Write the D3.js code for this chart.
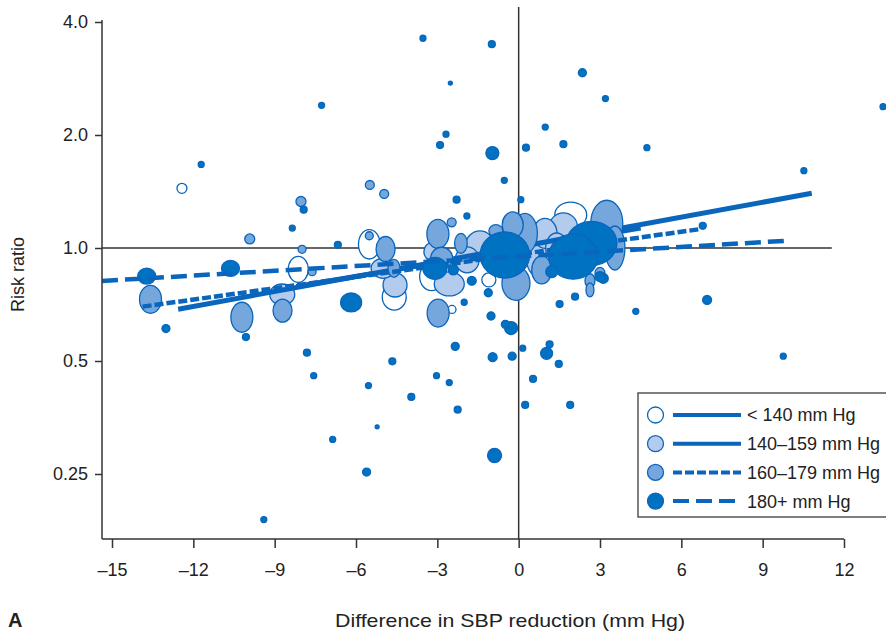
<!DOCTYPE html>
<html>
<head>
<meta charset="utf-8">
<script src="https://cdn.jsdelivr.net/npm/d3@7"></script>
<style>
    body { margin: 0; background: #fff; }
    text { font-family: "Liberation Sans", Arial, sans-serif; fill: #222; }
</style>
</head>
<body>
<svg id="chart" width="886" height="633"></svg>
<script>
// x ticks and y ticks (risk ratio, log scale)
var xTicks = [-15, -12, -9, -6, -3, 0, 3, 6, 9, 12],
    yTicks = [0.25, 0.5, 1, 2, 4],
    yTickLabels = ["0.25", "0.5", "1.0", "2.0", "4.0"];

var groups = ["< 140 mm Hg", "140–159 mm Hg", "160–179 mm Hg", "180+ mm Hg"];

// trials: [difference in SBP reduction, risk ratio, weight (horizontal), weight (vertical)]
var open_pts = [
    [-12.42, 1.442, 25, 25], [-5.51, 1.023, 117, 216], [-8.13, 0.877, 100, 169],
    [-4.59, 0.740, 144, 169], [-3.21, 0.839, 144, 196], [-1.10, 0.822, 49, 49],
    [-2.46, 0.686, 16, 16], [1.92, 1.224, 256, 169]
];

var light_pts = [
    [-3.20, 0.978, 64, 81], [-2.56, 0.802, 225, 144], [-1.43, 1.019, 196, 196],
    [-1.90, 0.930, 144, 169], [0.97, 1.094, 144, 225], [1.65, 1.139, 196, 196],
    [0.72, 0.948, 144, 400], [1.40, 1.000, 121, 225], [1.08, 0.896, 49, 144],
    [-4.56, 0.797, 144, 144], [-5.00, 0.883, 144, 100], [-8.72, 0.752, 156, 110]
];

var medium_pts = [
    [-8.03, 1.330, 25, 25], [-9.92, 1.057, 25, 25], [-5.49, 1.472, 20, 20],
    [-4.96, 1.393, 20, 20], [-5.51, 1.078, 16, 16], [-4.91, 0.994, 90, 156],
    [-7.99, 0.992, 16, 16], [-2.47, 1.171, 20, 20], [-2.98, 1.090, 121, 210],
    [-2.13, 1.029, 40, 100], [-2.84, 0.939, 121, 121], [-2.97, 0.671, 121, 196],
    [-0.84, 1.112, 49, 36], [-0.22, 1.152, 110, 169], [0.23, 1.094, 156, 400],
    [-0.10, 0.805, 196, 289], [3.25, 1.164, 256, 529], [3.55, 1.0, 100, 484],
    [0.85, 0.874, 100, 196], [2.63, 0.818, 25, 49], [2.63, 0.773, 16, 49],
    [3.00, 0.856, 25, 36], [-13.58, 0.730, 121, 196], [-10.21, 0.654, 121, 225],
    [-7.62, 0.865, 16, 16], [-8.71, 0.681, 90, 132], [-4.60, 0.883, 36, 81]
];

var dark_pts = [
    [-7.27, 2.40, 9, 9], [-11.71, 1.67, 9, 9], [-7.93, 1.265, 12, 12], [-8.35, 1.13, 9, 9],
    [-6.67, 1.02, 12, 12], [-3.53, 3.62, 9, 9], [-0.99, 3.49, 12, 12], [-2.52, 2.75, 4, 4],
    [2.35, 2.93, 16, 16], [3.20, 2.50, 9, 9], [0.98, 2.10, 9, 9], [-2.68, 2.01, 9, 9],
    [-2.90, 1.88, 12, 12], [0.27, 1.85, 12, 12], [1.65, 1.89, 12, 12], [4.73, 1.85, 9, 9],
    [-0.97, 1.79, 42, 42], [-0.53, 1.515, 9, 9], [-2.29, 1.345, 12, 12], [-1.91, 1.217, 9, 9],
    [0.08, 1.345, 9, 9], [13.44, 2.38, 9, 9], [10.52, 1.607, 9, 9], [6.79, 1.146, 12, 12],
    [4.32, 0.678, 9, 9], [6.95, 0.727, 20, 20], [9.76, 0.515, 9, 9], [3.12, 0.830, 25, 25],
    [-7.81, 0.526, 12, 12], [-4.66, 0.499, 12, 12], [-7.56, 0.457, 9, 9], [-5.54, 0.430, 9, 9],
    [-5.22, 0.334, 4, 4], [-6.86, 0.309, 9, 9], [-5.61, 0.253, 16, 16], [-9.40, 0.189, 9, 9],
    [-2.34, 0.547, 16, 16], [-0.96, 0.512, 20, 20], [-0.24, 0.515, 16, 16], [0.15, 0.541, 9, 9],
    [1.14, 0.554, 12, 12], [1.03, 0.524, 36, 36], [1.48, 0.491, 12, 12], [-3.03, 0.457, 9, 9],
    [-2.56, 0.438, 9, 9], [0.53, 0.448, 12, 12], [-3.96, 0.401, 12, 12], [-2.25, 0.371, 12, 12],
    [0.24, 0.382, 12, 12], [1.90, 0.382, 12, 12], [-0.89, 0.280, 49, 49], [-0.28, 0.612, 42, 42],
    [-0.49, 0.626, 16, 16], [-13.01, 0.610, 16, 16], [-10.06, 0.579, 12, 12], [-1.73, 0.818, 20, 20],
    [-1.12, 0.760, 16, 16], [-2.01, 0.717, 9, 9], [-1.02, 0.659, 16, 16], [1.22, 0.865, 36, 36],
    [3.00, 0.839, 25, 25], [2.08, 0.742, 12, 12], [1.51, 0.709, 12, 12], [-2.41, 0.874, 25, 25],
    [-13.72, 0.842, 81, 64], [-10.63, 0.883, 81, 64], [-6.18, 0.716, 110, 90],
    [-3.09, 0.883, 144, 121], [-0.51, 0.958, 610, 529], [2.69, 1.029, 640, 484],
    [2.01, 0.948, 600, 506]
];

// meta-regression lines per group: [x0, rr0, x1, rr1]
var fit_lines = [
    [-8.2, 0.79, 4.5, 1.13],
    [-12.56, 0.687, 10.81, 1.399],
    [-13.87, 0.698, 6.63, 1.121],
    [-15.38, 0.817, 9.93, 1.046]
];

var fills = ["#ffffff", "#b3cced", "#75a7dd", "#0072c2"],
    blue = "#0a65bc",
    dashes = [null, null, "9,3", "16,7"],
    axis_color = "#333";

var svg = d3.select("#chart");

var x = d3.scaleLinear().domain([-15, 12]).range([112, 844]),
    y = d3.scaleLog().base(2).domain([0.25, 4]).range([474, 22]),
    r = d3.scaleSqrt().domain([0, 625]).range([0, 25]);

var axisY = 539,
    axisX = 102;

// reference lines at rr = 1 and difference = 0
svg.append("line")
    .attr("x1", axisX).attr("x2", x(11.55))
    .attr("y1", y(1)).attr("y2", y(1))
    .attr("stroke", axis_color).attr("stroke-width", 1.5);
svg.append("line")
    .attr("x1", x(0)).attr("x2", x(0))
    .attr("y1", 7).attr("y2", axisY)
    .attr("stroke", axis_color).attr("stroke-width", 1.5);

var pts = [open_pts, light_pts, medium_pts, dark_pts];

// each group: bubbles then its regression line
pts.forEach(function (list, g) {
    var data = list.slice().sort((a, b) => (b[2] + b[3]) - (a[2] + a[3]));

    svg.append("g")
        .selectAll("ellipse")
        .data(data)
        .enter()
        .append("ellipse")
        .attr("cx", d => x(d[0]))
        .attr("cy", d => y(d[1]))
        .attr("rx", d => r(d[2]))
        .attr("ry", d => r(d[3]))
        .attr("fill", fills[g])
        .attr("stroke", blue)
        .attr("stroke-width", 1.3);

    var f = fit_lines[g];
    svg.append("line")
        .attr("x1", Math.max(axisX, x(f[0]))).attr("y1", y(f[1]))
        .attr("x2", x(f[2])).attr("y2", y(f[3]))
        .attr("stroke", blue)
        .attr("stroke-width", g < 2 ? 5 : 4.5)
        .attr("stroke-dasharray", dashes[g]);
});

// axes
var xAxis = svg.append("g")
    .attr("transform", "translate(0," + axisY + ")")
    .call(d3.axisBottom(x).tickValues(xTicks).tickSize(9).tickPadding(15)
        .tickFormat(d => d < 0 ? "\u2013" + Math.abs(d) : d));
xAxis.select(".domain").remove();

var yAxis = svg.append("g")
    .attr("transform", "translate(" + axisX + ",0)")
    .call(d3.axisLeft(y).tickValues(yTicks).tickSize(7).tickPadding(7)
        .tickFormat((d, i) => yTickLabels[i]));
yAxis.select(".domain").remove();

svg.selectAll(".tick line").attr("stroke", axis_color).attr("stroke-width", 1.5);
svg.selectAll(".tick text").style("font-size", "18px").attr("fill", "#222");

svg.append("line")
    .attr("x1", axisX).attr("x2", x(12))
    .attr("y1", axisY).attr("y2", axisY)
    .attr("stroke", axis_color).attr("stroke-width", 1.5);
svg.append("line")
    .attr("x1", axisX).attr("x2", axisX)
    .attr("y1", y(4) - 2).attr("y2", axisY)
    .attr("stroke", axis_color).attr("stroke-width", 1.5);

// axis titles
svg.append("text")
    .attr("transform", "translate(24," + y(0.85) + ") rotate(-90)")
    .attr("text-anchor", "middle")
    .style("font-size", "18px")
    .text("Risk ratio");

svg.append("text")
    .attr("x", 335).attr("y", 627)
    .attr("textLength", 350)
    .attr("lengthAdjust", "spacingAndGlyphs")
    .style("font-size", "19px")
    .text("Difference in SBP reduction (mm Hg)");

svg.append("text")
    .attr("x", 8).attr("y", 627)
    .style("font-size", "20px")
    .style("font-weight", "bold")
    .text("A");

// legend
var legend = svg.append("g").attr("transform", "translate(638,393)");

legend.append("rect")
    .attr("width", 260).attr("height", 124)
    .attr("fill", "#fff")
    .attr("stroke", "#555").attr("stroke-width", 1.5);

var rows = legend.selectAll(".row")
    .data(groups)
    .enter()
    .append("g")
    .attr("class", "row")
    .attr("transform", (d, i) => "translate(0," + (22 + i * 28.7) + ")");

rows.append("circle")
    .attr("cx", 17.5).attr("r", 8)
    .attr("fill", (d, i) => fills[i])
    .attr("stroke", blue).attr("stroke-width", 1.3);

rows.append("line")
    .attr("x1", 35).attr("x2", 103)
    .attr("stroke", blue).attr("stroke-width", 4)
    .attr("stroke-dasharray", (d, i) => dashes[i]);

rows.append("text")
    .attr("x", 109).attr("dy", "0.36em")
    .style("font-size", "18px")
    .text(d => d);
</script>
</body>
</html>
